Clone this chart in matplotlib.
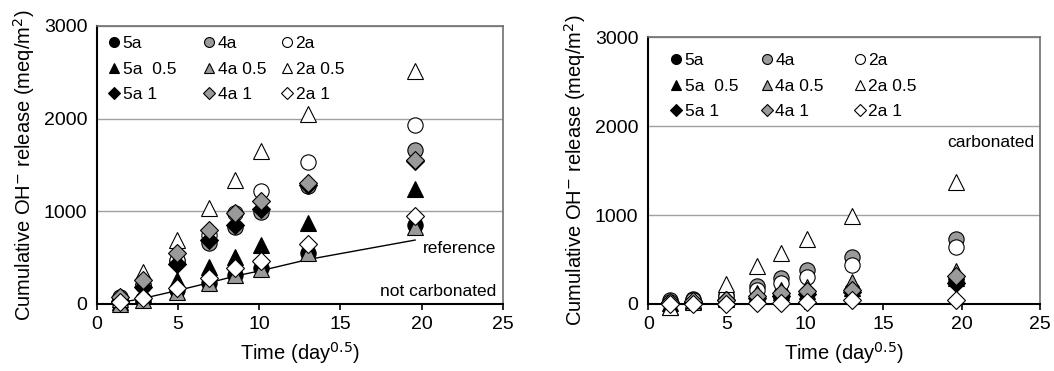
import numpy as np
import matplotlib
matplotlib.use("Agg")
import matplotlib.pyplot as plt
from matplotlib.legend import Legend

plt.rcParams['font.family'] = ['Liberation Sans', 'DejaVu Sans']

# time axis, sqrt(days)
t = [1.41, 2.83, 4.95, 6.93, 8.49, 10.1, 13.0, 19.6]

# not carbonated (left panel), meq/m2
nc = {
    "5a":      [10, 50, 150, 230, 310, 390, 550, 850],
    "4a":      [80, 200, 460, 660, 835, 990, 1275, 1660],
    "2a":      [40, 200, 480, 745, 980, 1215, 1530, 1930],
    "5a  0.5": [20, 110, 255, 400, 510, 640, 870, 1240],
    "4a 0.5":  [0, 40, 130, 230, 310, 380, 545, 830],
    "2a 0.5":  [50, 350, 690, 1035, 1340, 1650, 2045, 2510],
    "5a 1":    [30, 180, 430, 690, 850, 1020, 1285, 1540],
    "4a 1":    [80, 260, 550, 800, 980, 1110, 1305, 1550],
    "2a 1":    [20, 60, 170, 280, 385, 460, 650, 950],
}
ref_line = [15, 60, 145, 230, 300, 360, 480, 690]

# carbonated (right panel)
carb = {
    "5a":      [20, 30, 50, 80, 110, 120, 160, 260],
    "4a":      [50, 60, 100, 200, 290, 385, 525, 730],
    "2a":      [20, 40, 90, 160, 235, 300, 435, 645],
    "5a  0.5": [10, 30, 60, 100, 130, 150, 180, 290],
    "4a 0.5":  [-30, 20, 70, 120, 160, 190, 250, 370],
    "2a 0.5":  [-30, 40, 220, 425, 575, 725, 990, 1370],
    "5a 1":    [10, 20, 40, 70, 90, 110, 140, 240],
    "4a 1":    [20, 30, 50, 90, 120, 150, 160, 320],
    "2a 1":    [0, 0, 5, 10, 15, 25, 40, 40],
}

GRAY = "#9a9a9a"
styles = {
    "5a":      ("o", "black"),
    "4a":      ("o", GRAY),
    "2a":      ("o", "white"),
    "5a  0.5": ("^", "black"),
    "4a 0.5":  ("^", GRAY),
    "2a 0.5":  ("^", "white"),
    "5a 1":    ("D", "black"),
    "4a 1":    ("D", GRAY),
    "2a 1":    ("D", "white"),
}
legend_cols = [["5a", "5a  0.5", "5a 1"],
               ["4a", "4a 0.5", "4a 1"],
               ["2a", "2a 0.5", "2a 1"]]

fig = plt.figure(figsize=(10.54, 3.71), dpi=100)
axL = fig.add_axes([0.092, 0.1806, 0.385, 0.7494])
axR = fig.add_axes([0.615, 0.1806, 0.372, 0.7194])


def draw(ax, data, col_x, top_y):
    handles = {}
    for name, vals in data.items():
        m, fc = styles[name]
        ms = 11 if m != "D" else 9.5
        h, = ax.plot(t, vals, linestyle="none", marker=m, markersize=ms,
                     markerfacecolor=fc, markeredgecolor="black",
                     markeredgewidth=0.8, clip_on=False, zorder=3, label=name)
        handles[name] = h
    ax.set_xlim(0, 25)
    ax.set_ylim(0, 3000)
    ax.set_xticks([0, 5, 10, 15, 20, 25])
    ax.set_yticks([0, 1000, 2000, 3000])
    ax.yaxis.grid(True, color="#a0a0a0", linewidth=1)
    ax.set_axisbelow(True)
    for s in ("top", "right"):
        ax.spines[s].set_color("#707070")
        ax.spines[s].set_linewidth(1.2)
    for s in ("left", "bottom"):
        ax.spines[s].set_color("black")
        ax.spines[s].set_linewidth(1.5)
    ax.tick_params(axis="both", direction="out", length=4, width=1.2,
                   labelsize=14, colors="black")
    ax.tick_params(axis="x", pad=5)
    ax.tick_params(axis="y", length=0, pad=7)
    ax.set_xlabel("Time (day$^{0.5}$)", fontsize=14.5, labelpad=5)
    ax.set_ylabel("Cumulative OH$^{-}$ release (meq/m$^{2}$)", fontsize=14.5, labelpad=5)
    # one legend per column, placed like the original
    for cx, names in zip(col_x, legend_cols):
        leg = Legend(ax, [handles[k] for k in names], names, ncol=1,
                     loc="upper left", bbox_to_anchor=(cx, top_y),
                     frameon=False, fontsize=12.5, markerscale=0.65,
                     handlelength=0.7, handletextpad=0.15,
                     labelspacing=0.6, borderaxespad=0, borderpad=0)
        ax.add_artist(leg)
    return handles


draw(axL, nc, [0.027, 0.261, 0.453], 0.964)
axL.plot(t, ref_line, color="black", linewidth=1, zorder=2)
axL.text(24.6, 600, "reference", ha="right", va="center", fontsize=12.5)
axL.text(24.6, 130, "not carbonated", ha="right", va="center", fontsize=12.5)

draw(axR, carb, [0.055, 0.287, 0.524], 0.94)
axR.text(24.6, 1810, "carbonated", ha="right", va="center", fontsize=12.5)

fig.savefig("out.png", dpi=100)
